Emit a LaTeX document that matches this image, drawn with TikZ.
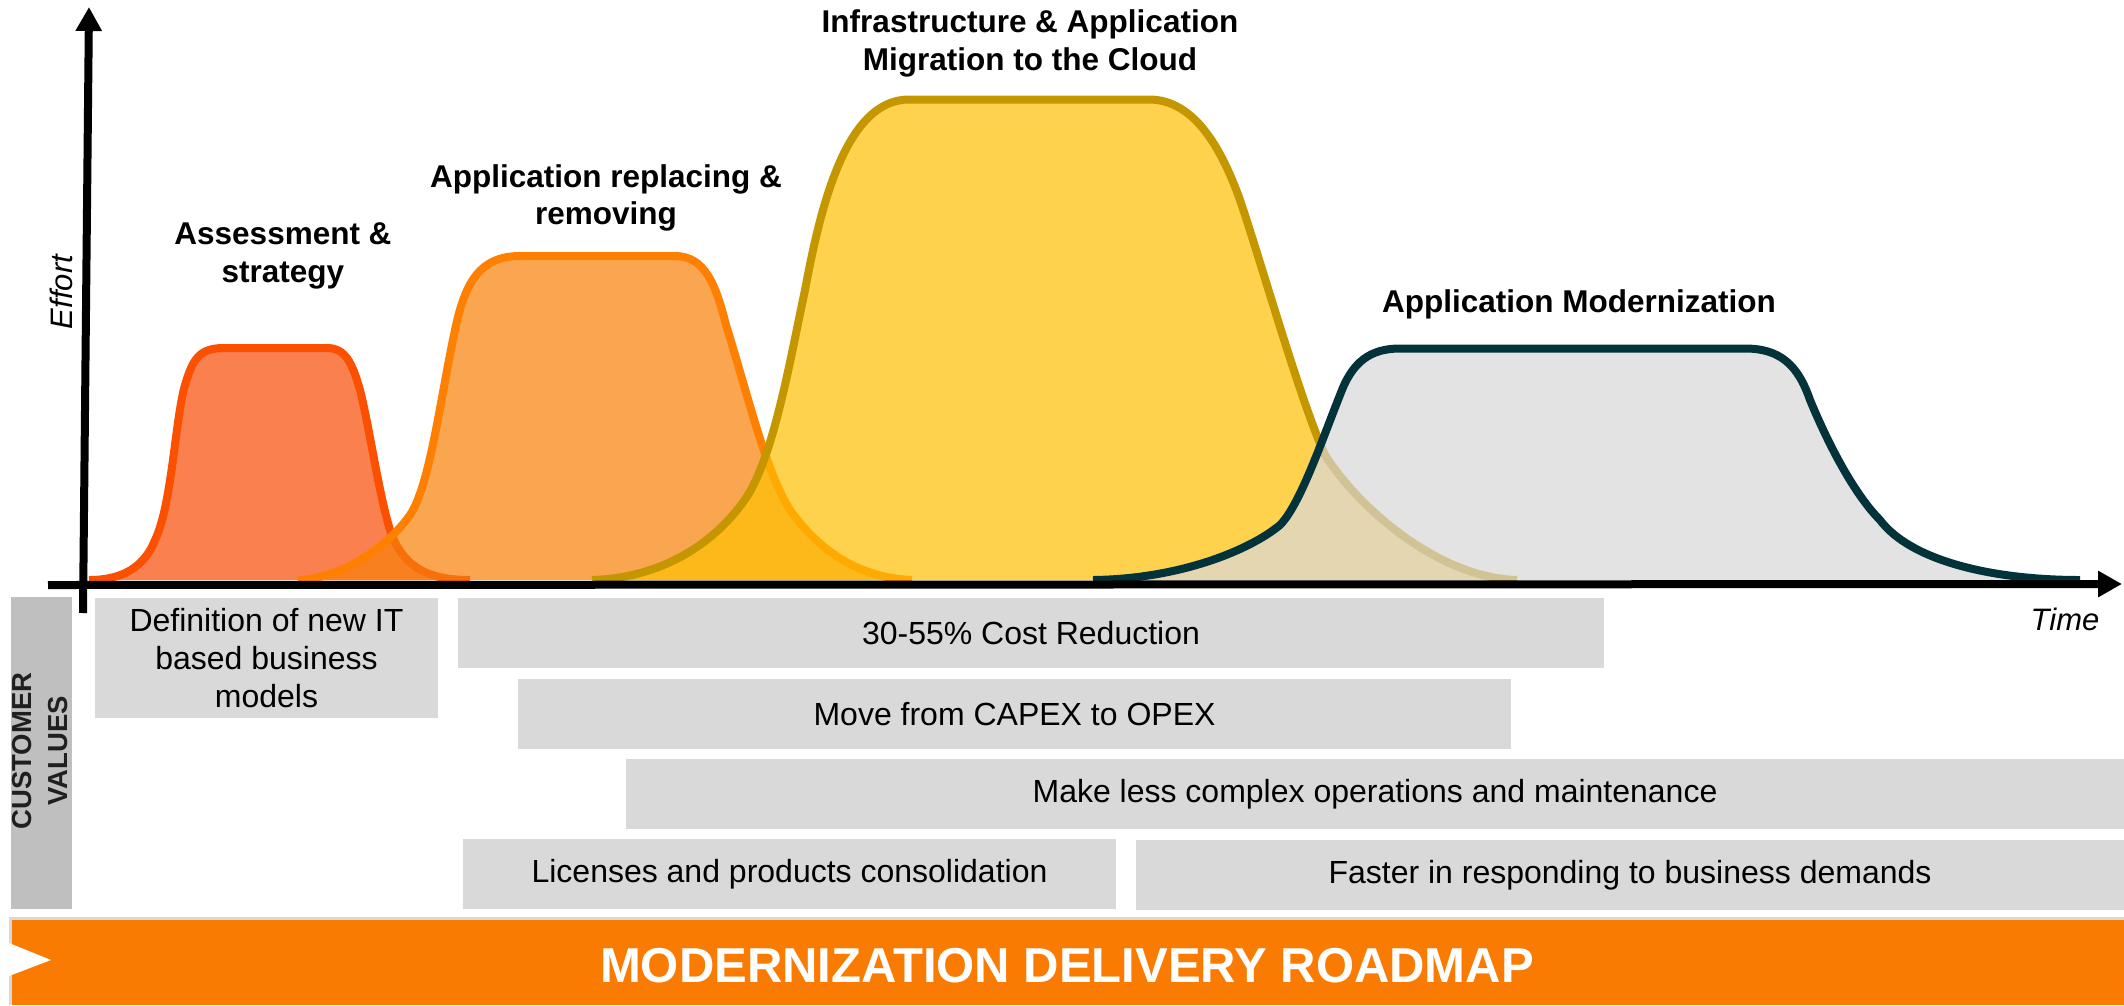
\documentclass[tikz,border=0pt]{standalone}
\usepackage{fontspec}
\setmainfont{Liberation Sans}
\usetikzlibrary{arrows.meta}
\definecolor{cAfill}{HTML}{FA8050}
\definecolor{cAline}{HTML}{FA5000}
\definecolor{cBfill}{HTML}{FAA550}
\definecolor{cBline}{HTML}{FF8000}
\definecolor{cCfill}{HTML}{FED24C}
\definecolor{cCline}{HTML}{C49600}
\definecolor{cDfill}{HTML}{E3E3E3}
\definecolor{cDline}{HTML}{03333A}
\definecolor{oAB}{HTML}{F8801E}
\definecolor{uA}{HTML}{F8700A}
\definecolor{oBC}{HTML}{FCB919}
\definecolor{uB}{HTML}{FFAA00}
\definecolor{oCD}{HTML}{E3D6B0}
\definecolor{uC}{HTML}{D2C396}
\definecolor{boxgray}{HTML}{D9D9D9}
\definecolor{bargray}{HTML}{BFBFBF}
\definecolor{banner}{HTML}{FA7B02}
\definecolor{bannerrim}{HTML}{D8D8D8}
\definecolor{cvtext}{HTML}{1F1F1F}
\tikzset{
  lbl/.style={font=\bfseries\fontsize{31.5}{38}\selectfont, align=center, inner sep=0pt},
  vbox/.style={fill=boxgray, inner sep=0pt, align=center, font=\fontsize{32}{38}\selectfont},
  curveline/.style={line width=8pt, line join=round},
  axisline/.style={line width=8pt, -{Triangle[length=24pt,width=25pt]}},
}
\def\pA{(89,580) .. controls (125,580) and (145,565) .. (155,540) .. controls (172,505) and (175,420) .. (185,385) .. controls (193,358) and (200,348) .. (224,348) -- (327,348) .. controls (345,348) and (352,362) .. (360,390) .. controls (370,430) and (378,490) .. (390,530) .. controls (402,565) and (425,580) .. (470,580)}
\def\pB{(298,580) .. controls (340,578) and (385,550) .. (410,515) .. controls (430,485) and (440,400) .. (455,330) .. controls (465,282) and (480,256) .. (520,256) -- (675,256) .. controls (705,256) and (716,285) .. (726,325) .. controls (748,395) and (765,470) .. (790,510) .. controls (820,552) and (860,578) .. (912,580)}
\def\pC{(592,580) .. controls (660,578) and (715,545) .. (748,495) .. controls (775,450) and (790,360) .. (805,290) .. controls (820,210) and (845,99.5) .. (909,99.5) -- (1149,99.5) .. controls (1195,99.5) and (1222,150) .. (1240,200) .. controls (1262,265) and (1300,400) .. (1325,455) .. controls (1360,510) and (1440,578) .. (1517,580)}
\def\pD{(1093,580) .. controls (1180,579) and (1250,550) .. (1280,525) .. controls (1300,505) and (1322,440) .. (1340,395) .. controls (1352,362) and (1370,348.5) .. (1400,348.5) -- (1745,348.5) .. controls (1780,348.5) and (1798,365) .. (1810,400) .. controls (1835,460) and (1860,500) .. (1880,520) .. controls (1910,560) and (1990,580) .. (2080,580)}
\begin{document}
\begin{tikzpicture}[x=1pt,y=-1pt]
\useasboundingbox (0,0) rectangle (2124,1005);
% curve 1
\fill[cAfill] \pA -- cycle;
\draw[curveline, cAline] \pA;
% curve 2
\fill[cBfill] \pB -- cycle;
\begin{scope}
  \clip \pB -- cycle;
  \fill[oAB] \pA -- cycle;
  \draw[curveline, uA] \pA;
\end{scope}
\draw[curveline, cBline] \pB;
% curve 3
\fill[cCfill] \pC -- cycle;
\begin{scope}
  \clip \pC -- cycle;
  \fill[oBC] \pB -- cycle;
  \draw[curveline, uB] \pB;
\end{scope}
\draw[curveline, cCline] \pC;
% curve 4
\fill[cDfill] \pD -- cycle;
\begin{scope}
  \clip \pD -- cycle;
  \fill[oCD] \pC -- cycle;
  \draw[curveline, uC] \pC;
\end{scope}
\draw[curveline, cDline] \pD;
% axes
\coordinate (ybot) at (83,613);
\coordinate (ytop) at (89,7);
\coordinate (xleft) at (48,585);
\coordinate (xright) at (2122,584);
\draw[axisline] (xleft) -- (xright);
\draw[axisline] (ybot) -- (ytop);
\node[rotate=90, inner sep=0pt, font=\itshape\fontsize{31}{36}\selectfont] (effort) at (61,292) {Effort};
\node[inner sep=0pt, font=\itshape\fontsize{31}{36}\selectfont] (time) at (2065,619) {Time};
% phase labels
\node[lbl] (lassess) at (283,256) {Assessment \&\\strategy};
\node[lbl, font=\bfseries\fontsize{31.5}{37}\selectfont] (lrepl) at (606,198) {Application replacing \&\\removing};
\node[lbl] (linfra) at (1030,43) {Infrastructure \& Application\\Migration to the Cloud};
\node[lbl] (lmod) at (1579,304) {Application Modernization};
% customer values
\node[fill=bargray, minimum width=61pt, minimum height=312pt, inner sep=0pt] (cvbar) at (41.5,753) {};
\node[rotate=90, align=center, inner sep=0pt, text=cvtext, font=\bfseries\fontsize{27.5}{35.5}\selectfont] (cvtxt) at (40,751) {CUSTOMER\\VALUES};
\node[vbox, minimum width=343pt, minimum height=120pt] (bdef) at (266.5,658) {Definition of new IT\\based business\\models};
\node[vbox, minimum width=1146pt, minimum height=70pt] (bcost) at (1031,633) {30-55\% Cost Reduction};
\node[vbox, minimum width=993pt, minimum height=70pt] (bcapex) at (1014.5,714) {Move from CAPEX to OPEX};
\node[vbox, minimum width=1498pt, minimum height=70pt] (bmake) at (1375,794) {Make less complex operations and maintenance};
\node[vbox, minimum width=653pt, minimum height=70pt] (blic) at (789.5,874) {Licenses and products consolidation};
\node[vbox, minimum width=988pt, minimum height=70pt] (bfast) at (1630,875) {Faster in responding to business demands};
% banner
\fill[bannerrim] (9,917) rectangle (2124,1005);
\fill[banner] (11.5,920) rectangle (2124,1005);
\fill[white] (9,943) -- (51,960) -- (9,976) -- cycle;
\node[inner sep=0pt, text=white, font=\bfseries\fontsize{49}{55}\selectfont] (btitle) at (1067,966) {MODERNIZATION DELIVERY ROADMAP};
\end{tikzpicture}
\end{document}
